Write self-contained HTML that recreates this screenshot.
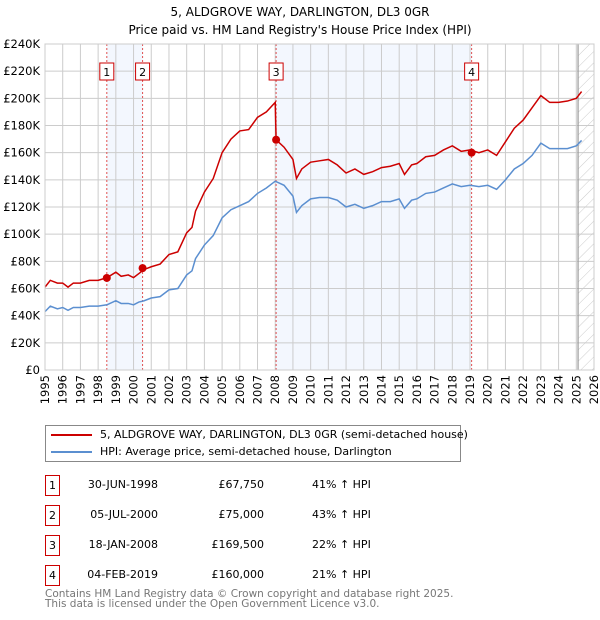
<!DOCTYPE html>
<html><head><meta charset="utf-8"><style>
body{margin:0;background:#fff;font-family:"DejaVu Sans","Liberation Sans",sans-serif;}
#wrap{position:relative;width:600px;height:620px;overflow:hidden}
.t{position:absolute;font-size:11px;color:#000;white-space:nowrap}
svg text{font-family:"DejaVu Sans","Liberation Sans",sans-serif}
</style></head><body><div id="wrap">
<div class="t" style="left:0;width:600px;text-align:center;top:3px;font-size:12px;line-height:18px">5, ALDGROVE WAY, DARLINGTON, DL3 0GR<br>Price paid vs. HM Land Registry's House Price Index (HPI)</div>
<svg id="chart" width="600" height="420" style="position:absolute;left:0;top:0"></svg>
<div style="position:absolute;left:45px;top:425px;width:414px;height:35px;border:1px solid #888">
 <div style="position:absolute;left:5px;top:8px;width:41px;height:2px;background:#cc0000"></div>
 <div class="t" style="left:54px;top:2px">5, ALDGROVE WAY, DARLINGTON, DL3 0GR (semi-detached house)</div>
 <div style="position:absolute;left:5px;top:25px;width:41px;height:2px;background:#5b8fd0"></div>
 <div class="t" style="left:54px;top:19px">HPI: Average price, semi-detached house, Darlington</div>
</div>
<div id="table"></div>
<div class="t" style="left:45px;top:589px;color:#777;line-height:10px;font-size:10.5px">Contains HM Land Registry data © Crown copyright and database right 2025.<br>This data is licensed under the Open Government Licence v3.0.</div>
</div>
<script>
const yTicks=[0,20,40,60,80,100,120,140,160,180,200,220,240];
const xYears=[1995,1996,1997,1998,1999,2000,2001,2002,2003,2004,2005,2006,2007,2008,2009,2010,2011,2012,2013,2014,2015,2016,2017,2018,2019,2020,2021,2022,2023,2024,2025,2026];
const hpiT=[1995.0,1995.3,1995.7,1996.0,1996.3,1996.6,1997.0,1997.5,1998.0,1998.5,1999.0,1999.3,1999.7,2000.0,2000.3,2000.6,2001.0,2001.5,2002.0,2002.5,2003.0,2003.3,2003.5,2004.0,2004.5,2005.0,2005.5,2006.0,2006.5,2007.0,2007.5,2008.0,2008.5,2009.0,2009.2,2009.5,2010.0,2010.5,2011.0,2011.5,2012.0,2012.5,2013.0,2013.5,2014.0,2014.5,2015.0,2015.3,2015.7,2016.0,2016.5,2017.0,2017.5,2018.0,2018.5,2019.0,2019.5,2020.0,2020.5,2021.0,2021.5,2022.0,2022.5,2023.0,2023.5,2024.0,2024.5,2025.0,2025.3];
const hpiV=[43,47,45,46,44,46,46,47,47,48,51,49,49,48,50,51,53,54,59,60,70,73,82,92,99,112,118,121,124,130,134,139,136,128,116,121,126,127,127,125,120,122,119,121,124,124,126,119,125,126,130,131,134,137,135,136,135,136,133,140,148,152,158,167,163,163,163,165,169];
const priceT=[1995.0,1995.3,1995.7,1996.0,1996.3,1996.6,1997.0,1997.5,1998.0,1998.5,1999.0,1999.3,1999.7,2000.0,2000.3,2000.6,2001.0,2001.5,2002.0,2002.5,2003.0,2003.3,2003.5,2004.0,2004.5,2005.0,2005.5,2006.0,2006.5,2007.0,2007.5,2008.0,2008.05,2008.5,2009.0,2009.2,2009.5,2010.0,2010.5,2011.0,2011.5,2012.0,2012.5,2013.0,2013.5,2014.0,2014.5,2015.0,2015.3,2015.7,2016.0,2016.5,2017.0,2017.5,2018.0,2018.5,2019.0,2019.5,2020.0,2020.5,2021.0,2021.5,2022.0,2022.5,2023.0,2023.5,2024.0,2024.5,2025.0,2025.3];
const priceV=[61,66,64,64,61,64,64,66,66,68,72,69,70,68,71,74,76,78,85,87,101,105,117,131,141,160,170,176,177,186,190,197,169.5,164,155,141,148,153,154,155,151,145,148,144,146,149,150,152,144,151,152,157,158,162,165,161,162,160,162,158,168,178,184,193,202,197,197,198,200,205];
const saleLabels=["1","2","3","4"];
const saleT=[1998.49,2000.51,2008.05,2019.09];
const saleV=[67.75,75,169.5,160];
const saleDates=["30-JUN-1998","05-JUL-2000","18-JAN-2008","04-FEB-2019"];
const salePrices=["£67,750","£75,000","£169,500","£160,000"];
const saleHpi=["41% ↑ HPI","43% ↑ HPI","22% ↑ HPI","21% ↑ HPI"];

const X0=45,X1=594,Y0=370,Y1=44;
const xs=t=>X0+(t-1995)/(2026-1995)*(X1-X0);
const ys=v=>Y0-v/240*(Y0-Y1);
const NS="http://www.w3.org/2000/svg";
const svg=document.getElementById('chart');
function mk(tag,attrs,parent){const e=document.createElementNS(NS,tag);for(const k in attrs)e.setAttribute(k,attrs[k]);(parent||svg).appendChild(e);return e;}
for(const [a,b] of [[0,1],[2,3]]){
 const r=mk('rect',{x:xs(saleT[a]),y:Y1,width:xs(saleT[b])-xs(saleT[a]),height:Y0-Y1,fill:'#eef3fd',opacity:0.7});
 
 
}
const defs=mk('defs',{});
const pat=mk('pattern',{id:'hatch',width:8,height:8,patternUnits:'userSpaceOnUse',patternTransform:'rotate(45)'},defs);
mk('line',{x1:0,y1:0,x2:0,y2:8,stroke:'#ccc','stroke-width':1},pat);
const hx=xs(2025.1);
const hr=mk('rect',{x:hx,y:Y1,width:X1-hx,height:Y0-Y1,fill:'url(#hatch)'});


yTicks.forEach(v=>{
 const l=mk('line',{x1:X0,x2:X1,y1:ys(v),y2:ys(v),stroke:'#ccc','stroke-width':1});
 
 
 const t=mk('text',{x:X0-5,y:ys(v)+4,'text-anchor':'end','font-size':11.5,fill:'#000'});
 t.textContent=v===0?'£0':'£'+v+'K';
 
 
});
xYears.forEach(yr=>{
 const l=mk('line',{x1:xs(yr),x2:xs(yr),y1:Y1,y2:Y0,stroke:'#ccc','stroke-width':1});
 
 
 const t=mk('text',{x:0,y:0,'text-anchor':'end','font-size':11.5,fill:'#000',transform:`translate(${xs(yr)+4},${Y0+5}) rotate(-90)`});
 t.textContent=yr;
 
 
});
const vl=mk('line',{x1:hx,x2:hx,y1:Y1,y2:Y0,stroke:'#999','stroke-width':1.2});


saleT.forEach((t,i)=>{
 const l=mk('line',{x1:xs(t),x2:xs(t),y1:Y1,y2:Y0,stroke:'#e05050','stroke-width':1,'stroke-dasharray':'2,2'});
 
 
 const r=mk('rect',{x:xs(t)-7,y:63,width:14,height:17,fill:'#fff',stroke:'#cc0000','stroke-width':1});
 
 
 const tx=mk('text',{x:xs(t),y:76,'text-anchor':'middle','font-size':11,fill:'#000'});
 tx.textContent=saleLabels[i];
 
 
});
const hp=mk('polyline',{points:hpiT.map((t,i)=>xs(t)+','+ys(hpiV[i])).join(' '),fill:'none',stroke:'#5b8fd0','stroke-width':1.5});


const pp=mk('polyline',{points:priceT.map((t,i)=>xs(t)+','+ys(priceV[i])).join(' '),fill:'none',stroke:'#cc0000','stroke-width':1.5});


saleT.forEach((t,i)=>{
 const c=mk('circle',{cx:xs(t),cy:ys(saleV[i]),r:4,fill:'#cc0000'});
 
 
});
const ax=mk('rect',{x:X0,y:Y1,width:X1-X0,height:Y0-Y1,fill:'none',stroke:'#ccc'});


const tb=document.getElementById('table');
saleLabels.forEach((lab,i)=>{
 const top=475+i*30;
 const row=document.createElement('div');
 
 
 row.style.cssText=`position:absolute;left:0;top:${top}px;width:600px;height:20px`;
 row.innerHTML=`<div style="position:absolute;left:45px;top:0;width:13px;height:19px;border:1px solid #cc0000;font-size:11px;text-align:center;line-height:19px">${lab}</div>
 <div class="t" style="left:80px;width:78px;text-align:right;top:3px">${saleDates[i]}</div>
 <div class="t" style="left:180px;width:84px;text-align:right;top:3px">${salePrices[i]}</div>
 <div class="t" style="left:312px;top:3px">${saleHpi[i]}</div>`;
 tb.appendChild(row);
});
</script></body></html>
